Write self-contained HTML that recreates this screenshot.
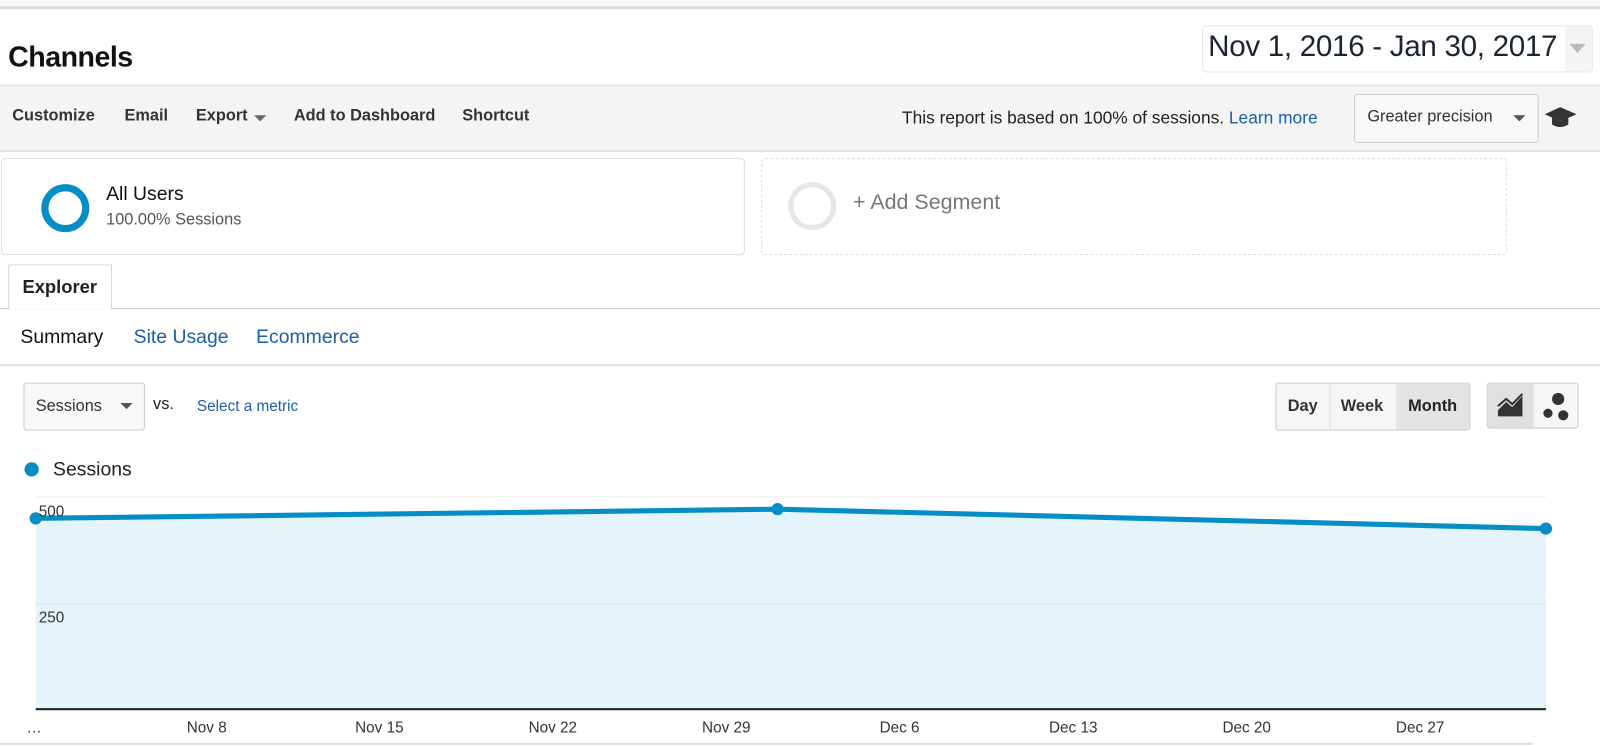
<!DOCTYPE html>
<html><head><meta charset="utf-8"><style>
*{margin:0;padding:0;box-sizing:border-box}
body{width:1600px;height:746px;background:#fff;font-family:"Liberation Sans",sans-serif;overflow:hidden;color:#222}
#w{position:absolute;left:0;top:0;width:1568px;height:731px;transform:scale(1.0204);transform-origin:0 0}
.a{position:absolute;white-space:nowrap}
.tb{font-size:16px;font-weight:bold;color:#333;top:105px}
.lbl{font-size:15px;color:#333;top:705px}
</style></head><body><div id="w">
<div class="a" style="left:0;top:0;width:1600px;height:9px;background:#f7f7f7;border-bottom:3px solid #ddd"></div>
<div class="a" style="left:8px;top:40px;font-size:28px;font-weight:bold;color:#111;letter-spacing:-0.5px">Channels</div>
<div class="a" style="left:1178px;top:25px;width:383px;height:46px;border:1px solid #e6e6e6;border-radius:4px;background:#fff"></div>
<div class="a" style="left:1534px;top:26px;width:26px;height:44px;background:#f4f4f4"></div>
<div class="a" style="left:1184px;top:30px;font-size:29px;color:#1a2433;letter-spacing:-0.3px">Nov 1, 2016 - Jan 30, 2017</div>
<div class="a" style="left:1538px;top:43px;border-left:8px solid transparent;border-right:8px solid transparent;border-top:9px solid #bbb"></div>
<div class="a" style="left:0;top:83px;width:1600px;height:66px;background:#f4f4f4;border-top:1px solid #ddd;border-bottom:2px solid #e3e3e3"></div>
<div class="a tb" style="left:12px">Customize</div>
<div class="a tb" style="left:122px">Email</div>
<div class="a tb" style="left:192px">Export</div>
<div class="a" style="left:249px;top:113px;border-left:6px solid transparent;border-right:6px solid transparent;border-top:6px solid #666"></div>
<div class="a tb" style="left:288px">Add to Dashboard</div>
<div class="a tb" style="left:453px">Shortcut</div>
<div class="a" style="left:884px;top:106px;font-size:17px;color:#222">This report is based on 100% of sessions. <span style="color:#1a5fa8">Learn more</span></div>
<div class="a" style="left:1327px;top:92px;width:181px;height:48px;border:1px solid #ccc;border-radius:3px;background:#f8f8f8"></div>
<div class="a" style="left:1340px;top:106px;font-size:16px;color:#333">Greater precision</div>
<div class="a" style="left:1483px;top:113px;border-left:6px solid transparent;border-right:6px solid transparent;border-top:6px solid #555"></div>
<svg class="a" style="left:1512px;top:102px" width="36" height="26"><polygon points="2,10 17,3 33,10 17,17" fill="#333"/><path d="M9,13 v7 q8,5 16,0 v-7 l-8,4z" fill="#333"/></svg>
<div class="a" style="left:1px;top:155px;width:729px;height:95px;border:1px solid #ddd;border-radius:4px"></div>
<svg class="a" style="left:38px;top:178px" width="54" height="54"><circle cx="26" cy="26" r="20" fill="none" stroke="#058dc7" stroke-width="7"/></svg>
<div class="a" style="left:104px;top:180px;font-size:19px;color:#111">All Users</div>
<div class="a" style="left:104px;top:207px;font-size:16px;color:#555">100.00% Sessions</div>
<div class="a" style="left:746px;top:155px;width:731px;height:95px;border:1.5px dashed #ddd;border-radius:4px"></div>
<svg class="a" style="left:770px;top:176px" width="54" height="54"><circle cx="26" cy="26" r="21" fill="none" stroke="#e6e6e6" stroke-width="5"/></svg>
<div class="a" style="left:836px;top:187px;font-size:21px;color:#777">+ Add Segment</div>
<div class="a" style="left:0;top:302px;width:1600px;height:1px;background:#ccc"></div>
<div class="a" style="left:8px;top:259px;width:102px;height:44px;border:1px solid #ccc;border-bottom:none;background:#fff;border-radius:2px 2px 0 0"></div>
<div class="a" style="left:22px;top:271px;font-size:18px;font-weight:bold;color:#222">Explorer</div>
<div class="a" style="left:20px;top:320px;font-size:19px;color:#111">Summary</div>
<div class="a" style="left:131px;top:320px;font-size:19px;color:#1a5fa8">Site Usage</div>
<div class="a" style="left:251px;top:320px;font-size:19px;color:#1a5fa8">Ecommerce</div>
<div class="a" style="left:0;top:357px;width:1600px;height:2px;background:#ddd"></div>
<div class="a" style="left:23px;top:375px;width:119px;height:47px;border:1px solid #ccc;border-radius:3px;background:#f8f8f8"></div>
<div class="a" style="left:35px;top:390px;font-size:16px;color:#333">Sessions</div>
<div class="a" style="left:118px;top:395px;border-left:6px solid transparent;border-right:6px solid transparent;border-top:6px solid #555"></div>
<div class="a" style="left:150px;top:388px;font-size:16px;color:#222">vs.</div>
<div class="a" style="left:193px;top:390px;font-size:15px;color:#1a5fa8">Select a metric</div>
<div class="a" style="left:1250px;top:375px;width:191px;height:47px;border:1px solid #ccc;border-radius:3px;background:#f6f6f6;overflow:hidden">
<div class="a" style="left:52px;top:0;width:1px;height:47px;background:#ddd"></div>
<div class="a" style="left:117px;top:0;width:74px;height:47px;background:#e4e4e4"></div>
<div class="a" style="left:11px;top:14px;font-size:16px;font-weight:bold;color:#333">Day</div>
<div class="a" style="left:63px;top:14px;font-size:16px;font-weight:bold;color:#333">Week</div>
<div class="a" style="left:129px;top:14px;font-size:16px;font-weight:bold;color:#222">Month</div></div>
<div class="a" style="left:1457px;top:375px;width:90px;height:45px;border:1px solid #ccc;border-radius:3px;background:#f6f6f6;overflow:hidden">
<div class="a" style="left:0;top:0;width:45px;height:45px;background:#e0e0e0"></div>
<svg class="a" style="left:8px;top:8px" width="30" height="28"><path d="M2,24 L2,18 L10,10 L16,15 L26,4 L26,24Z" fill="#333"/><path d="M2,14 L10,7 L16,12 L26,2" fill="none" stroke="#333" stroke-width="2"/></svg>
<svg class="a" style="left:50px;top:6px" width="36" height="34"><circle cx="19" cy="9" r="6" fill="#333"/><circle cx="9" cy="23" r="4.5" fill="#333"/><circle cx="24" cy="25" r="5" fill="#333"/></svg></div>
<div class="a" style="left:24px;top:453px;width:14px;height:14px;border-radius:50%;background:#058dc7"></div>
<div class="a" style="left:52px;top:450px;font-size:19px;color:#222">Sessions</div>
<svg class="a" style="left:0;top:480px" width="1600" height="230">
<line x1="35" y1="7" x2="1515" y2="7" stroke="#eee" stroke-width="1"/>
<polygon points="35,28 762,19 1515,38 1515,215 35,215" fill="#e5f3fa"/>
<line x1="35" y1="112" x2="1515" y2="112" stroke="#d8e4ea" stroke-width="1"/>
<line x1="35" y1="215" x2="1515" y2="215" stroke="#222" stroke-width="2"/>
<polyline points="35,28 762,19 1515,38" fill="none" stroke="#058dc7" stroke-width="5"/>
<circle cx="35" cy="28" r="6" fill="#058dc7"/><circle cx="762" cy="19" r="6" fill="#058dc7"/><circle cx="1515" cy="38" r="6" fill="#058dc7"/>
<text x="38" y="26" font-size="15" fill="#333" font-family="Liberation Sans">500</text>
<text x="38" y="130" font-size="15" fill="#333" font-family="Liberation Sans">250</text>
</svg>
<div class="a lbl" style="left:26px">…</div>
<div class="a lbl" style="left:183px">Nov 8</div>
<div class="a lbl" style="left:348px">Nov 15</div>
<div class="a lbl" style="left:518px">Nov 22</div>
<div class="a lbl" style="left:688px">Nov 29</div>
<div class="a lbl" style="left:862px">Dec 6</div>
<div class="a lbl" style="left:1028px">Dec 13</div>
<div class="a lbl" style="left:1198px">Dec 20</div>
<div class="a lbl" style="left:1368px">Dec 27</div>
<div class="a" style="left:0;top:728px;width:1502px;height:2px;background:#ddd"></div>
</div></body></html>
